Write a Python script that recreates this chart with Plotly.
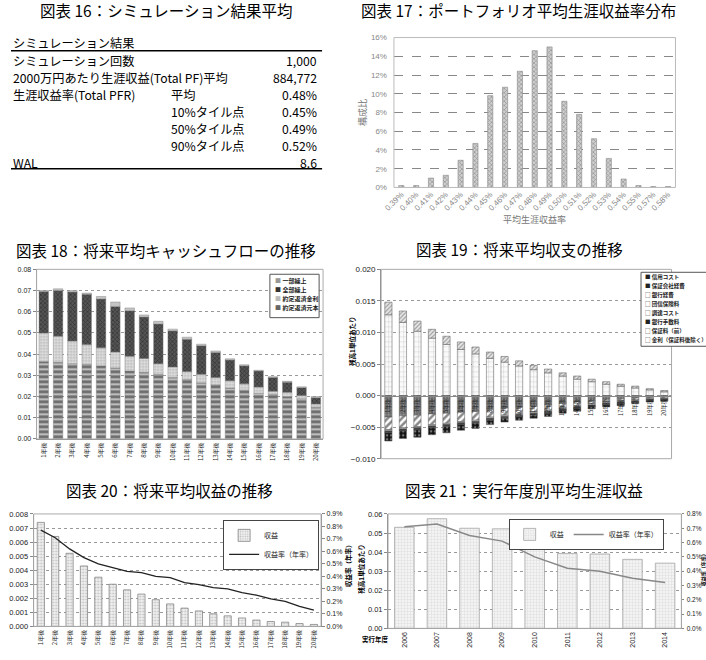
import plotly.graph_objects as go

W, H = 706, 660


def X(px):
    return px / W


def Y(py):
    return 1 - py / H


JP = "Noto Sans CJK JP"
NUM = "Liberation Sans, Noto Sans CJK JP"

# ---------------- data ----------------
# 図表16
table_header = "シミュレーション結果"
table_labels = ["シミュレーション回数", "2000万円あたり生涯収益(Total PF)平均",
                "生涯収益率(Total PFR)", "", "", "", "WAL"]
table_sublabels = ["", "", "平均", "10%タイル点", "50%タイル点", "90%タイル点", ""]
table_values = ["1,000", "884,772", "0.48%", "0.45%", "0.49%", "0.52%", "8.6"]

# 図表17
dist_bins = ["0.39%", "0.40%", "0.41%", "0.42%", "0.43%", "0.44%", "0.45%", "0.46%",
             "0.47%", "0.48%", "0.49%", "0.50%", "0.51%", "0.52%", "0.53%", "0.54%",
             "0.55%", "0.57%", "0.58%"]
dist_share = [0.2, 0.2, 1.0, 1.3, 2.9, 4.7, 9.8, 10.7, 12.4, 14.6, 15.0, 9.2, 7.8,
              5.2, 3.1, 0.9, 0.2, 0.1, 0.1]

# 図表18/19/20 categories
years = ["1年後", "2年後", "3年後", "4年後", "5年後", "6年後", "7年後", "8年後", "9年後",
         "10年後", "11年後", "12年後", "13年後", "14年後", "15年後", "16年後", "17年後",
         "18年後", "19年後", "20年後"]

# 図表18
cf_principal = [0.0365, 0.0362, 0.0355, 0.0352, 0.0345, 0.0335, 0.0320, 0.0315, 0.0305, 0.0290,
                0.0280, 0.0265, 0.0255, 0.0240, 0.0230, 0.0215, 0.0210, 0.0200, 0.0190, 0.0150]
cf_interest = [0.0135, 0.0123, 0.0107, 0.0093, 0.0085, 0.0075, 0.0070, 0.0065, 0.0050, 0.0050,
               0.0038, 0.0040, 0.0035, 0.0035, 0.0030, 0.0030, 0.0015, 0.0020, 0.0015, 0.0015]
cf_full = [0.0195, 0.0215, 0.0231, 0.0237, 0.0230, 0.0215, 0.0215, 0.0195, 0.0187, 0.0170,
           0.0152, 0.0135, 0.0118, 0.0097, 0.0085, 0.0075, 0.0065, 0.0048, 0.0037, 0.0030]
cf_partial = [0.0005, 0.0008, 0.0007, 0.0006, 0.0012, 0.0021, 0.0013, 0.0010, 0.0013, 0.0008,
              0.0010, 0.0007, 0.0007, 0.0006, 0.0005, 0.0004, 0.0004, 0.0004, 0.0004, 0.0005]

# 図表19
pl_interest = [0.0128, 0.0116, 0.0102, 0.0091, 0.0081, 0.0073, 0.0066, 0.0059, 0.0053, 0.0047,
               0.0041, 0.0036, 0.0031, 0.0026, 0.0022, 0.0018, 0.0015, 0.0012, 0.0009, 0.0006]
pl_guarantee = [0.0020, 0.0018, 0.0016, 0.0014, 0.0013, 0.0012, 0.0011, 0.0010, 0.0009, 0.0008,
                0.0007, 0.0006, 0.0005, 0.0005, 0.0004, 0.0004, 0.0003, 0.0003, 0.0002, 0.0002]
pl_funding = [-0.0034, -0.0032, -0.0031, -0.0029, -0.0028, -0.0026, -0.0025, -0.0022, -0.0020, -0.0019,
              -0.0017, -0.0015, -0.0012, -0.0010, -0.0008, -0.0006, -0.0005, -0.0004, -0.0003, -0.0002]
pl_insurance = [-0.0020, -0.0019, -0.0018, -0.0017, -0.0016, -0.0015, -0.0014, -0.0012, -0.0011, -0.0010,
                -0.0009, -0.0008, -0.0007, -0.0006, -0.0005, -0.0004, -0.0003, -0.0003, -0.0002, -0.0002]
pl_bank_exp = [-0.0002, -0.0002, -0.0002, -0.0002, -0.0002, -0.0002, -0.0002, -0.0002, -0.0002, -0.0002,
               -0.0002, -0.0002, -0.0002, -0.0002, -0.0002, -0.0002, -0.0002, -0.0002, -0.0001, -0.0001]
pl_guar_exp = [-0.0002, -0.0002, -0.0002, -0.0002, -0.0002, -0.0002, -0.0002, -0.0002, -0.0002, -0.0002,
               -0.0002, -0.0002, -0.0002, -0.0002, -0.0002, -0.0002, -0.0002, -0.0001, -0.0001, -0.0001]
pl_bank_fee = [-0.0001, -0.0001, -0.0001, -0.0001, -0.0001, -0.0001, -0.0001, -0.0001, -0.0001, -0.0001,
               -0.0001, -0.0001, -0.0001, -0.0001, -0.0001, -0.0001, -0.0001, -0.0001, -0.0001, -0.0001]
pl_credit = [-0.0013, -0.0012, -0.0012, -0.0011, -0.0010, -0.0009, -0.0008, -0.0007, -0.0006, -0.0005,
             -0.0005, -0.0005, -0.0004, -0.0004, -0.0003, -0.0003, -0.0003, -0.0002, -0.0002, -0.0002]

# 図表20
rev_amount = [0.0074, 0.0064, 0.0052, 0.0043, 0.0035, 0.0030, 0.0026, 0.0023, 0.0019, 0.0016,
              0.0013, 0.0011, 0.0009, 0.00075, 0.0006, 0.00045, 0.00035, 0.0003, 0.0002, 0.00014]
rev_rate = [0.77, 0.71, 0.62, 0.55, 0.50, 0.47, 0.44, 0.43, 0.40, 0.39,
            0.35, 0.335, 0.31, 0.30, 0.27, 0.25, 0.22, 0.20, 0.16, 0.13]

# 図表21
vintages = ["2006", "2007", "2008", "2009", "2010", "2011", "2012", "2013", "2014"]
vint_rev = [0.0530, 0.0575, 0.0525, 0.0522, 0.0448, 0.0393, 0.0390, 0.0362, 0.0342]
vint_rate = [0.71, 0.73, 0.65, 0.61, 0.50, 0.42, 0.40, 0.35, 0.32]

# ---------------- figure ----------------
fig = go.Figure()
annotations = []
shapes = []


def text(x, y, s, size=12, xanchor="center", yanchor="middle", color="#000", family=JP, angle=0):
    annotations.append(dict(x=X(x), y=Y(y), xref="paper", yref="paper", text=s, showarrow=False,
                            xanchor=xanchor, yanchor=yanchor, textangle=angle,
                            font=dict(size=size, color=color, family=family)))


def border(x0, y0, x1, y1, color="#999"):
    shapes.append(dict(type="rect", xref="paper", yref="paper", x0=X(x0), x1=X(x1), y0=Y(y1), y1=Y(y0),
                       line=dict(color=color, width=1), fillcolor="rgba(0,0,0,0)", layer="above"))


# titles
TS = 15.5
text(158, 6, "図表 16：シミュレーション結果平均", TS)
text(516, 6, "図表 17：ポートフォリオ平均生涯収益率分布", TS)
text(157, 249, "図表 18：将来平均キャッシュフローの推移", TS)
text(517, 248, "図表 19：将来平均収支の推移", TS)
text(161, 493, "図表 20：将来平均収益の推移", TS)
text(521, 493, "図表 21：実行年度別平均生涯収益", TS)

# ---- 図表16 table ----
TF = 12.2
text(0, 40, table_header, TF, xanchor="left")
shapes.append(dict(type="line", xref="paper", yref="paper", x0=X(0), x1=X(316), y0=Y(47.5), y1=Y(47.5),
                   line=dict(color="#000", width=1.5)))
for i, (lab, sub, val) in enumerate(zip(table_labels, table_sublabels, table_values)):
    yy = 57.5 + i * 17.3
    if lab:
        text(0, yy, lab, TF, xanchor="left")
    if sub:
        text(161, yy, sub, TF, xanchor="left")
    text(313, yy, val, TF, xanchor="right")
shapes.append(dict(type="line", xref="paper", yref="paper", x0=X(0), x1=X(316), y0=Y(167), y1=Y(167),
                   line=dict(color="#000", width=1.5)))

# ---- 図表17 ----
fig.add_trace(go.Bar(x=dist_bins, y=dist_share, xaxis="x", yaxis="y", width=0.35, showlegend=False,
                     marker=dict(color="#cfcfcf", line=dict(color="#888", width=0.6),
                                 pattern=dict(shape="x", fgcolor="#555", size=3, solidity=0.4))))
border(389, 34, 675, 186, "#bbb")
text(357, 110, "構成比", 9, color="#777", angle=-90)
text(532, 218, "平均生涯収益率", 9, color="#777")

# ---- 図表18 ----
cf_series = [
    ("約定返済元本", cf_principal, dict(color="#bdbdbd", pattern=dict(shape="-", fgcolor="#1a1a1a", size=5, solidity=0.55))),
    ("約定返済金利", cf_interest, dict(color="#e0e0e0", pattern=dict(shape=".", fgcolor="#888", size=3, solidity=0.4))),
    ("全部繰上", cf_full, dict(color="#555", pattern=dict(shape="x", fgcolor="#111", size=3, solidity=0.4))),
    ("一部繰上", cf_partial, dict(color="#c4c4c4", pattern=dict(shape="", fgcolor="#999"))),
]
cf_legend_color = {"約定返済元本": "#666", "約定返済金利": "#bbb", "全部繰上": "#333", "一部繰上": "#999"}
for name, vals, mk in cf_series:
    mk = dict(mk)
    mk["line"] = dict(color="#777", width=0.4)
    fig.add_trace(go.Bar(x=years, y=vals, name=name, xaxis="x2", yaxis="y2", width=0.66,
                         marker=mk, showlegend=False))
border(26, 269, 317, 441, "#aaa")
# legend box 18
shapes.append(dict(type="rect", xref="paper", yref="paper", x0=X(263), x1=X(313), y0=Y(318), y1=Y(274),
                   line=dict(color="#555", width=1), fillcolor="white", layer="above"))
for i, (name, vals, mk) in enumerate(reversed(cf_series)):
    text(266, 280 + i * 9.4,
         f"<span style='color:{cf_legend_color[name]}'>■</span> <b>{name}</b>", 6,
         xanchor="left", color="#222")

# ---- 図表19 ----
pl_series = [
    ("金利（保証料後除く）", pl_interest, dict(color="#fafafa", pattern=dict(shape="+", fgcolor="#777", size=5, solidity=0.12)), "□"),
    ("保証料（前）", pl_guarantee, dict(color="#e8e8e8", pattern=dict(shape="/", fgcolor="#555", size=3, solidity=0.4)), "□"),
    ("調達コスト", pl_funding, dict(color="#666", pattern=dict(shape=".", fgcolor="#ddd", size=3, solidity=0.35)), "□"),
    ("団信保険料", pl_insurance, dict(color="#fff", pattern=dict(shape="/", fgcolor="#111", size=5, solidity=0.5)), "□"),
    ("銀行経費", pl_bank_exp, dict(color="#ccc"), "□"),
    ("保証会社経費", pl_guar_exp, dict(color="#333"), "■"),
    ("銀行手数料", pl_bank_fee, dict(color="#111"), "■"),
    ("信用コスト", pl_credit, dict(color="#111", pattern=dict(shape=".", fgcolor="#ddd", size=4, solidity=0.3)), "■"),
]
for name, vals, mk, glyph in pl_series:
    mk = dict(mk)
    mk["line"] = dict(color="#555", width=0.5)
    fig.add_trace(go.Bar(x=years, y=vals, name=name, xaxis="x3", yaxis="y3", width=0.5,
                         marker=mk, showlegend=False))
border(376, 269, 671, 461, "#aaa")
legend19_order = ["信用コスト", "保証会社経費", "銀行経費", "団信保険料", "調達コスト", "銀行手数料",
                  "保証料（前）", "金利（保証料後除く）"]
glyphs19 = {name: glyph for name, vals, mk, glyph in pl_series}
shapes.append(dict(type="rect", xref="paper", yref="paper", x0=X(640), x1=X(712), y0=Y(347), y1=Y(272),
                   line=dict(color="#555", width=1), fillcolor="white", layer="above"))
for i, name in enumerate(legend19_order):
    text(642, 276.5 + i * 9.2, f"{glyphs19[name]} <b>{name}</b>", 5.5, xanchor="left", color="#222")
text(347, 342, "<b>残高1単位あたり</b>", 6.5, angle=-90)

# ---- 図表20 ----
fig.add_trace(go.Bar(x=years, y=rev_amount, name="収益", xaxis="x4", yaxis="y4", width=0.5,
                     legend="legend",
                     marker=dict(color="#f2f2f2", line=dict(color="#777", width=0.7),
                                 pattern=dict(shape=".", fgcolor="#888", size=3, solidity=0.3))))
fig.add_trace(go.Scatter(x=years, y=rev_rate, name="収益率（年率）", mode="lines", xaxis="x4", yaxis="y5",
                         legend="legend", line=dict(color="#222", width=1.3)))
border(23, 517, 315, 631, "#aaa")
text(343, 568, "<b>収益率（年率）</b>", 6.5, angle=-90)

# ---- 図表21 ----
fig.add_trace(go.Bar(x=vintages, y=vint_rev, name="収益", xaxis="x5", yaxis="y6", width=0.6,
                     legend="legend2",
                     marker=dict(color="#f4f4f4", line=dict(color="#999", width=0.7),
                                 pattern=dict(shape="+", fgcolor="#bbb", size=3, solidity=0.25))))
fig.add_trace(go.Scatter(x=vintages, y=vint_rate, name="収益率（年率）", mode="lines", xaxis="x5", yaxis="y7",
                         legend="legend2", line=dict(color="#888", width=1.5)))
border(383, 517, 681, 633, "#aaa")
text(356, 573, "<b>残高1単位あたり</b>", 6.5, angle=-90)
text(703, 573, "<b>収益率（年率）</b>", 5, angle=-90)
text(370, 644, "<b>実行年度</b>", 6.5)

# ---------------- axes ----------------
tickf = dict(family=NUM, size=7, color="#222")
grid_dot = dict(showgrid=True, gridcolor="#999", griddash="dot", gridwidth=0.8)

layout_axes = dict(
    xaxis=dict(domain=[X(389), X(675)], anchor="y", type="category", tickangle=-45,
               tickfont=dict(family=NUM, size=8, color="#888"), showgrid=False, ticks="",
               showline=False),
    yaxis=dict(domain=[Y(186), Y(34)], anchor="x", range=[0, 16], dtick=2, ticksuffix="%",
               tickfont=dict(family=NUM, size=8, color="#888"), showgrid=True, gridcolor="#888",
               griddash="dash", gridwidth=0.8, zeroline=False, ticks="", ticklabelstandoff=6),
    xaxis2=dict(domain=[X(26), X(317)], anchor="y2", type="category", tickangle=-90,
                tickfont=dict(family=JP, size=6, color="#222"), showgrid=False, ticks="",
                showline=True, linecolor="#888"),
    yaxis2=dict(domain=[Y(441), Y(269)], anchor="x2", range=[0, 0.08], dtick=0.01, tickformat=".2f",
                tickfont=tickf, zeroline=False, showline=True, linecolor="#888", ticks="outside",
                ticklen=3, tickcolor="#888", **grid_dot),
    xaxis3=dict(domain=[X(376), X(671)], anchor="free", position=Y(397), type="category", tickangle=-90,
                tickfont=dict(family=JP, size=5.5, color="#222"), showgrid=False, ticks="",
                showline=True, linecolor="#888"),
    yaxis3=dict(domain=[Y(461), Y(269)], anchor="x3", range=[-0.010, 0.020], dtick=0.005,
                tickformat=".3f", tickfont=dict(family=NUM, size=8, color="#222"), zeroline=False,
                showline=True, linecolor="#888", ticks="outside", ticklen=3, tickcolor="#888", **grid_dot),
    xaxis4=dict(domain=[X(23), X(315)], anchor="y4", type="category", tickangle=-90,
                tickfont=dict(family=JP, size=6, color="#222"), showgrid=False, ticks="",
                showline=True, linecolor="#888"),
    yaxis4=dict(domain=[Y(631), Y(517)], anchor="x4", range=[0, 0.008], dtick=0.001, tickformat=".3f",
                tickfont=dict(family=NUM, size=7.5, color="#222"), zeroline=False, showline=True,
                linecolor="#888", ticks="outside", ticklen=3, tickcolor="#888", **grid_dot),
    yaxis5=dict(overlaying="y4", side="right", anchor="x4", range=[0, 0.9], dtick=0.1, tickformat=".1f",
                ticksuffix="%", tickfont=dict(family=NUM, size=7, color="#222"), showgrid=False,
                zeroline=False, showline=True, linecolor="#888", ticks="outside", ticklen=3,
                tickcolor="#888"),
    xaxis5=dict(domain=[X(383), X(681)], anchor="y6", type="category", tickangle=-90,
                tickfont=dict(family=NUM, size=7, color="#222"), showgrid=False, ticks="",
                showline=True, linecolor="#888"),
    yaxis6=dict(domain=[Y(633), Y(517)], anchor="x5", range=[0, 0.06], dtick=0.01, tickformat=".2f",
                tickfont=dict(family=NUM, size=7.5, color="#222"), zeroline=False, showline=True,
                linecolor="#888", ticks="outside", ticklen=3, tickcolor="#888", **grid_dot),
    yaxis7=dict(overlaying="y6", side="right", anchor="x5", range=[0, 0.8], dtick=0.1, tickformat=".1f",
                ticksuffix="%", tickfont=dict(family=NUM, size=6.5, color="#222"), showgrid=False,
                zeroline=False, showline=True, linecolor="#888", ticks="outside", ticklen=2,
                tickcolor="#888", ticklabelstandoff=1),
)

fig.update_layout(
    width=W, height=H, margin=dict(l=0, r=0, t=0, b=0, pad=0),
    paper_bgcolor="white", plot_bgcolor="white",
    barmode="relative",
    font=dict(family=JP, color="#000"),
    annotations=annotations, shapes=shapes,
    legend=dict(x=X(313), y=Y(523), xanchor="right", yanchor="top", bgcolor="white",
                bordercolor="#444", borderwidth=1, font=dict(family=JP, size=7, color="#222"),
                tracegroupgap=0, itemwidth=30),
    legend2=dict(orientation="h", x=X(663), y=Y(522), xanchor="right", yanchor="top", bgcolor="white",
                 bordercolor="#444", borderwidth=1, font=dict(family=JP, size=7, color="#222"),
                 itemwidth=30),
    **layout_axes,
)

fig.write_html("out.html", post_script="document.body.style.margin='0';")
